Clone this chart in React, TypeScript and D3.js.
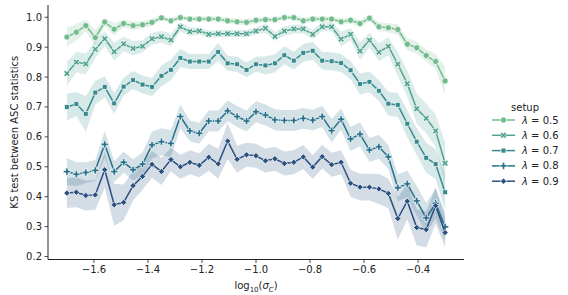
import React from 'react';
import * as d3 from 'd3';

// log10(sigma_C) sample positions
const xValues = [
  -1.7, -1.665, -1.63, -1.595, -1.56, -1.525, -1.49, -1.455, -1.42, -1.385,
  -1.35, -1.315, -1.28, -1.245, -1.21, -1.175, -1.14, -1.105, -1.07, -1.035,
  -1.0, -0.965, -0.93, -0.895, -0.86, -0.825, -0.79, -0.755, -0.72, -0.685,
  -0.65, -0.615, -0.58, -0.545, -0.51, -0.475, -0.44, -0.405, -0.37, -0.335, -0.3
];

const lambda05 = [
  0.934, 0.950, 0.972, 0.932, 0.984, 0.960, 0.979, 0.972, 0.975, 0.983,
  0.998, 0.988, 0.999, 0.994, 0.994, 0.994, 0.994, 0.988, 0.985, 0.983,
  0.990, 0.992, 0.992, 0.999, 0.999, 0.988, 0.994, 0.994, 0.994, 0.985,
  0.990, 0.979, 0.997, 0.968, 0.965, 0.959, 0.910, 0.898, 0.872, 0.852, 0.787
];
const lambda06 = [
  0.812, 0.850, 0.844, 0.893, 0.928, 0.885, 0.911, 0.896, 0.903, 0.928,
  0.935, 0.924, 0.968, 0.952, 0.954, 0.943, 0.945, 0.945, 0.945, 0.945,
  0.954, 0.963, 0.936, 0.954, 0.961, 0.961, 0.943, 0.968, 0.968, 0.927,
  0.943, 0.887, 0.923, 0.883, 0.903, 0.843, 0.778, 0.694, 0.662, 0.620, 0.512
];
const lambda07 = [
  0.700, 0.710, 0.677, 0.748, 0.767, 0.712, 0.768, 0.790, 0.775, 0.767,
  0.804, 0.824, 0.864, 0.852, 0.852, 0.852, 0.884, 0.846, 0.843, 0.824,
  0.843, 0.839, 0.846, 0.873, 0.855, 0.881, 0.888, 0.855, 0.853, 0.847,
  0.823, 0.777, 0.784, 0.754, 0.711, 0.707, 0.644, 0.584, 0.530, 0.509, 0.415
];
const lambda08 = [
  0.484, 0.475, 0.481, 0.488, 0.575, 0.484, 0.515, 0.490, 0.509, 0.573,
  0.584, 0.578, 0.668, 0.620, 0.612, 0.653, 0.653, 0.687, 0.668, 0.653,
  0.684, 0.673, 0.657, 0.655, 0.655, 0.662, 0.656, 0.668, 0.621, 0.659,
  0.593, 0.609, 0.556, 0.567, 0.533, 0.430, 0.443, 0.386, 0.329, 0.378, 0.299
];
const lambda09 = [
  0.412, 0.415, 0.404, 0.406, 0.490, 0.373, 0.381, 0.437, 0.468, 0.508,
  0.484, 0.524, 0.500, 0.515, 0.505, 0.532, 0.510, 0.586, 0.525, 0.540,
  0.537, 0.520, 0.527, 0.511, 0.515, 0.533, 0.499, 0.534, 0.507, 0.515,
  0.445, 0.432, 0.432, 0.426, 0.411, 0.327, 0.385, 0.297, 0.290, 0.370, 0.280
];

// half width of the confidence band
const ci05 = [
  0.032, 0.028, 0.020, 0.025, 0.015, 0.020, 0.012, 0.015, 0.012, 0.012,
  0.008, 0.010, 0.008, 0.009, 0.009, 0.009, 0.009, 0.010, 0.010, 0.010,
  0.009, 0.009, 0.009, 0.008, 0.008, 0.010, 0.009, 0.009, 0.009, 0.010,
  0.010, 0.012, 0.010, 0.015, 0.015, 0.018, 0.020, 0.020, 0.020, 0.025, 0.048
];
const ci06 = [
  0.040, 0.035, 0.035, 0.030, 0.025, 0.030, 0.025, 0.025, 0.020, 0.020,
  0.020, 0.020, 0.015, 0.015, 0.012, 0.012, 0.012, 0.012, 0.012, 0.012,
  0.012, 0.015, 0.015, 0.015, 0.015, 0.015, 0.015, 0.015, 0.015, 0.025,
  0.020, 0.030, 0.025, 0.030, 0.030, 0.040, 0.045, 0.050, 0.050, 0.055, 0.070
];
const ci07 = [
  0.045, 0.040, 0.060, 0.040, 0.035, 0.035, 0.030, 0.030, 0.030, 0.030,
  0.035, 0.035, 0.030, 0.025, 0.025, 0.025, 0.030, 0.025, 0.025, 0.025,
  0.025, 0.030, 0.030, 0.030, 0.030, 0.030, 0.030, 0.030, 0.030, 0.030,
  0.030, 0.035, 0.035, 0.035, 0.040, 0.040, 0.045, 0.045, 0.050, 0.050, 0.060
];
const ci08 = [
  0.045, 0.040, 0.035, 0.035, 0.045, 0.035, 0.035, 0.035, 0.040, 0.045,
  0.045, 0.045, 0.040, 0.035, 0.035, 0.035, 0.035, 0.035, 0.035, 0.035,
  0.035, 0.035, 0.035, 0.035, 0.035, 0.035, 0.035, 0.035, 0.040, 0.035,
  0.040, 0.040, 0.040, 0.040, 0.040, 0.045, 0.045, 0.050, 0.050, 0.050, 0.050
];
const ci09 = [
  0.050, 0.050, 0.050, 0.050, 0.060, 0.070, 0.060, 0.050, 0.045, 0.045,
  0.045, 0.040, 0.040, 0.040, 0.040, 0.045, 0.050, 0.060, 0.045, 0.040,
  0.040, 0.040, 0.040, 0.040, 0.040, 0.040, 0.040, 0.040, 0.040, 0.040,
  0.045, 0.045, 0.045, 0.050, 0.050, 0.070, 0.060, 0.060, 0.060, 0.060, 0.050
];

const setupLabels = ['0.5', '0.6', '0.7', '0.8', '0.9'];
const xTicks = [-1.6, -1.4, -1.2, -1.0, -0.8, -0.6, -0.4];
const yTicks = [0.2, 0.3, 0.4, 0.5, 0.6, 0.7, 0.8, 0.9, 1.0];

const colors = ['#72bb8c', '#50a38f', '#368a8e', '#27708b', '#29507f'];
const markerTypes = ['circle', 'x', 'square', 'plus', 'diamond'];

const series = [
  { label: setupLabels[0], values: lambda05, ci: ci05 },
  { label: setupLabels[1], values: lambda06, ci: ci06 },
  { label: setupLabels[2], values: lambda07, ci: ci07 },
  { label: setupLabels[3], values: lambda08, ci: ci08 },
  { label: setupLabels[4], values: lambda09, ci: ci09 },
];

const W = 568;
const H = 295;
const margin = { left: 48, right: 104, top: 5, bottom: 35.5 };
const font = '"DejaVu Sans", sans-serif';
const ink = '#222';

const markerPath = (type: string) => {
  switch (type) {
    case 'circle': return d3.symbol(d3.symbolCircle, 30)();
    case 'x': return d3.symbol(d3.symbolCross, 26)();
    case 'square': return d3.symbol(d3.symbolSquare, 24)();
    case 'plus': return d3.symbol(d3.symbolCross, 28)();
    default: return d3.symbol(d3.symbolSquare, 20)();
  }
};
const markerRotate = (type: string) => (type === 'x' || type === 'diamond' ? 45 : 0);

const Marker: React.FC<{ x: number; y: number; type: string; color: string }> = ({ x, y, type, color }) => (
  <path
    d={markerPath(type) || ''}
    transform={`translate(${x},${y}) rotate(${markerRotate(type)})`}
    fill={color}
    stroke="#fff"
    strokeWidth={0.7}
  />
);

export default function App() {
  const xScale = d3.scaleLinear().domain([-1.77, -0.23]).range([margin.left, W - margin.right]);
  const yScale = d3.scaleLinear().domain([0.19, 1.041]).range([H - margin.bottom, margin.top]);

  const line = d3.line<number>()
    .x((_, i) => xScale(xValues[i]))
    .y(d => yScale(d));

  const areaFor = (values: number[], ci: number[]) =>
    d3.area<number>()
      .x((_, i) => xScale(xValues[i]))
      .y0((d, i) => yScale(d - ci[i]))
      .y1((d, i) => yScale(d + ci[i]))(values) || '';

  const x0 = margin.left;
  const y0 = H - margin.bottom;

  return (
    <svg width={W} height={H} style={{ position: 'fixed', left: 0, top: 0, background: '#fff' }} fontFamily={font}>
      {/* confidence bands sit beneath every line */}
      {series.map((s, k) => (
        <path key={`band${k}`} d={areaFor(s.values, s.ci)} fill={colors[k]} fillOpacity={0.2} stroke="none" />
      ))}
      {series.map((s, k) => (
        <g key={`line${k}`}>
          <path d={line(s.values) || ''} fill="none" stroke={colors[k]} strokeWidth={1.5} />
          {s.values.map((v, i) => (
            <Marker key={i} x={xScale(xValues[i])} y={yScale(v)} type={markerTypes[k]} color={colors[k]} />
          ))}
        </g>
      ))}

      {/* axes */}
      <line x1={x0} x2={x0} y1={margin.top} y2={y0} stroke={ink} strokeWidth={1} />
      <line x1={x0} x2={W - margin.right} y1={y0} y2={y0} stroke={ink} strokeWidth={1} />
      {yTicks.map(t => (
        <g key={`yt${t}`} transform={`translate(${x0},${yScale(t)})`}>
          <line x1={-3.5} x2={0} stroke={ink} strokeWidth={0.8} />
          <text x={-6} dy="0.35em" textAnchor="end" fontSize={10} fill={ink}>{t.toFixed(1)}</text>
        </g>
      ))}
      {xTicks.map(t => (
        <g key={`xt${t}`} transform={`translate(${xScale(t)},${y0})`}>
          <line y1={0} y2={3.5} stroke={ink} strokeWidth={0.8} />
          <text y={6} dy="0.76em" textAnchor="middle" fontSize={10} fill={ink}>
            {t.toFixed(1).replace('-', '\u2212')}
          </text>
        </g>
      ))}
      <text
        transform={`translate(14,${(margin.top + y0) / 2}) rotate(-90)`}
        textAnchor="middle"
        dy="0.35em"
        fontSize={10}
        fill={ink}
      >
        KS test between ASC statistics
      </text>
      <text x={(x0 + W - margin.right) / 2} y={289} textAnchor="middle" fontSize={10} fill={ink}>
        log<tspan fontSize={7} dy={2.5}>10</tspan>
        <tspan dy={-2.5}>(</tspan>
        <tspan fontStyle="italic">σ</tspan>
        <tspan fontSize={7} dy={2.5} fontStyle="italic">C</tspan>
        <tspan dy={-2.5}>)</tspan>
      </text>

      {/* legend */}
      <text x={525} y={111} textAnchor="middle" fontSize={10} fill={ink}>setup</text>
      {series.map((s, k) => {
        const ly = 120 + k * 15.3;
        return (
          <g key={`lg${k}`}>
            <line x1={492} x2={515} y1={ly} y2={ly} stroke={colors[k]} strokeWidth={1.5} />
            <Marker x={503.5} y={ly} type={markerTypes[k]} color={colors[k]} />
            <text x={522} y={ly} dy="0.35em" fontSize={10} fill={ink}>
              <tspan fontStyle="italic">λ</tspan> = {s.label}
            </text>
          </g>
        );
      })}
    </svg>
  );
}
